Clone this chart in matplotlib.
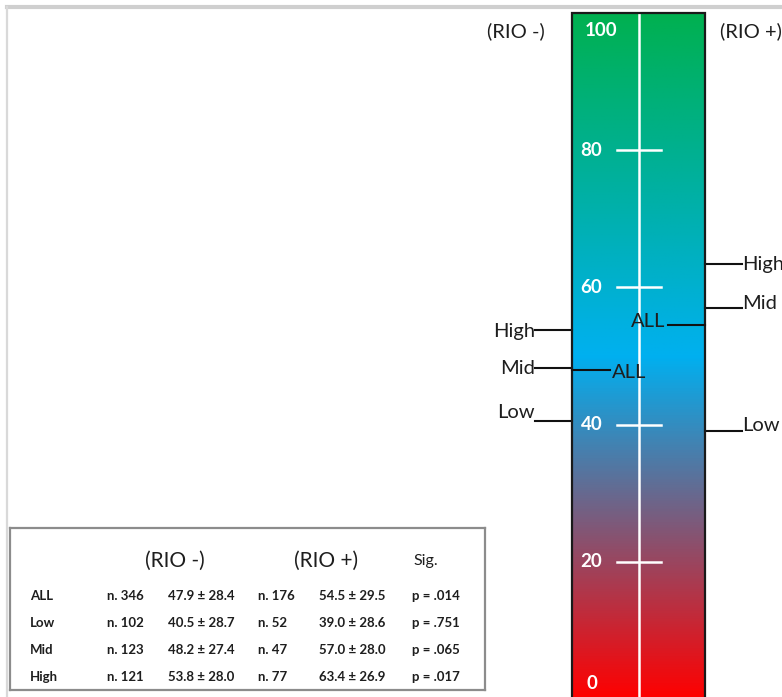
import matplotlib
matplotlib.use("Agg")
import matplotlib.pyplot as plt
import numpy as np
from matplotlib.colors import LinearSegmentedColormap
from matplotlib.lines import Line2D
from matplotlib.patches import Rectangle

plt.rcParams['font.family'] = ['Lato', 'DejaVu Sans']

# ---------------- data ----------------
groups = ["ALL", "Low", "Mid", "High"]
rio_minus_n = [346, 102, 123, 121]
rio_minus_mean = [47.9, 40.5, 48.2, 53.8]
rio_minus_sd = [28.4, 28.7, 27.4, 28.0]
rio_plus_n = [176, 52, 47, 77]
rio_plus_mean = [54.5, 39.0, 57.0, 63.4]
rio_plus_sd = [29.5, 28.6, 28.0, 26.9]
p_values = [".014", ".751", ".065", ".017"]
scale_ticks = [0, 20, 40, 60, 80, 100]
header_minus = "(RIO -)"
header_plus = "(RIO +)"

W, H = 782, 697
fig = plt.figure(figsize=(W / 100, H / 100), dpi=100)
fig.patch.set_facecolor("white")

def fx(px):
    return px / W

def fy(py):
    return 1 - py / H

# outer frame lines
fig.add_artist(Line2D([fx(7), 1], [fy(7), fy(7)], color="#cfcfcf", lw=3))
fig.add_artist(Line2D([fx(7), fx(7)], [fy(7), 0], color="#d9d9d9", lw=1.6))

# ---------------- gradient bar ----------------
bar_l, bar_r, y100, y0 = 572, 705, 13, 699
ax = fig.add_axes([fx(bar_l), fy(y0), (bar_r - bar_l) / W, (y0 - y100) / H])
ax.set_xlim(0, 1)
ax.set_ylim(0, 100)
ax.axis("off")

cmap = LinearSegmentedColormap.from_list(
    "rio", [(0.0, "#ff0000"), (0.50, "#00b0f0"), (1.0, "#00b050")])
grad = np.linspace(0, 1, 512).reshape(-1, 1)
ax.imshow(grad, cmap=cmap, aspect="auto", extent=[0, 1, 0, 100], origin="lower")
ax.add_patch(Rectangle((0, 0), 1, 100, fill=False, ec="#1a1a1a", lw=1.6,
                       clip_on=False, zorder=5))

# central white line and ticks
tick_fs = 13.5
ax.plot([0.504, 0.504], [0, 100], color="white", lw=1.8, zorder=3)
for t in scale_ticks:
    if 0 < t < 100:
        ax.plot([0.34, 0.67], [t, t], color="white", lw=1.8, zorder=3)
        ax.text(0.065, t, str(t), color="white", fontsize=tick_fs, fontweight="bold",
                ha="left", va="center", zorder=4)
ax.text(0.095, 100 - 2.6, "100", color="white", fontsize=tick_fs, fontweight="bold",
        ha="left", va="center", zorder=4)
ax.text(0.11, 2.3, "0", color="white", fontsize=tick_fs, fontweight="bold",
        ha="left", va="center", zorder=4)

txt_col = "#1e1e1e"
lab_fs = 14.5
label_dy = {"Low": 1.3, "Mid": 0.0, "High": -0.3}
label_dy_r = {"Low": 0.8, "Mid": 0.7, "High": 0.0}

# left side: RIO -
for g, m in zip(groups, rio_minus_mean):
    if g == "ALL":
        ax.plot([0, 0.285], [m, m], color="#111111", lw=1.5, clip_on=False, zorder=6)
        ax.text(0.30, m - 0.3, "ALL", color=txt_col, fontsize=lab_fs,
                ha="left", va="center", zorder=6)
    else:
        ax.plot([-0.28, 0], [m, m], color="#111111", lw=1.5, clip_on=False)
        ax.text(-0.28, m + label_dy[g], g, color=txt_col, fontsize=lab_fs,
                ha="right", va="center", clip_on=False)

# right side: RIO +
for g, m in zip(groups, rio_plus_mean):
    if g == "ALL":
        ax.plot([0.72, 1], [m, m], color="#111111", lw=1.5, clip_on=False, zorder=6)
        ax.text(0.705, m + 0.6, "ALL", color=txt_col, fontsize=lab_fs,
                ha="right", va="center", zorder=6)
    else:
        ax.plot([1, 1.28], [m, m], color="#111111", lw=1.5, clip_on=False)
        ax.text(1.28, m + label_dy_r[g], g, color=txt_col, fontsize=lab_fs,
                ha="left", va="center", clip_on=False)

ax.text(-0.42, 97.4, header_minus, color=txt_col, fontsize=lab_fs,
        ha="center", va="center", clip_on=False)
ax.text(1.11, 97.4, header_plus, color=txt_col, fontsize=lab_fs,
        ha="left", va="center", clip_on=False)

# ---------------- table ----------------
tl, tt, tr, tb = 10, 528, 485, 690
tax = fig.add_axes([fx(tl), fy(tb), (tr - tl) / W, (tb - tt) / H])
tax.set_xlim(tl, tr)
tax.set_ylim(tb, tt)
tax.set_xticks([])
tax.set_yticks([])
for s in tax.spines.values():
    s.set_color("#8c8c8c")
    s.set_linewidth(1.6)

hdr_y = 561
tax.text(175, hdr_y, header_minus, fontsize=15, color=txt_col, ha="center", va="center")
tax.text(326, hdr_y, header_plus, fontsize=15, color=txt_col, ha="center", va="center")
tax.text(413, hdr_y, "Sig.", fontsize=11.5, color=txt_col, ha="left", va="center")

row_y = [596, 623, 650, 677]
fs = 9.5
for i, g in enumerate(groups):
    y = row_y[i]
    tax.text(30, y, g, fontsize=fs, color=txt_col, ha="left", va="center", fontweight="bold")
    tax.text(107, y, f"n. {rio_minus_n[i]}", fontsize=fs, color=txt_col,
             ha="left", va="center", fontweight="bold")
    tax.text(168, y, f"{rio_minus_mean[i]:.1f} \u00b1 {rio_minus_sd[i]:.1f}", fontsize=fs,
             color=txt_col, ha="left", va="center", fontweight="bold")
    tax.text(258, y, f"n. {rio_plus_n[i]}", fontsize=fs, color=txt_col,
             ha="left", va="center", fontweight="bold")
    tax.text(319, y, f"{rio_plus_mean[i]:.1f} \u00b1 {rio_plus_sd[i]:.1f}", fontsize=fs,
             color=txt_col, ha="left", va="center", fontweight="bold")
    tax.text(412, y, f"p = {p_values[i]}", fontsize=fs, color=txt_col,
             ha="left", va="center", fontweight="bold")

fig.savefig("out.png", dpi=100, facecolor="white")
